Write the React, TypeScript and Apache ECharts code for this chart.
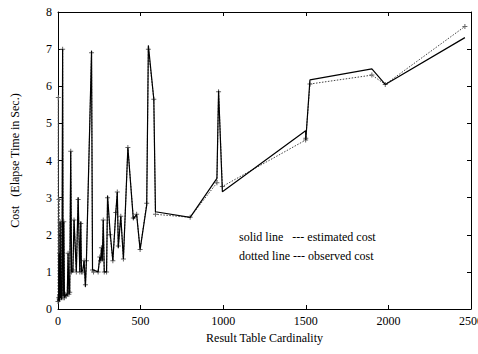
import React, { useEffect, useRef } from "react";
import * as echarts from "echarts";

const cardinality = [0, 2, 4, 6, 8, 10, 13, 16, 19, 22, 25, 28, 31, 35, 39, 44, 50, 56, 61, 66, 71, 77, 82, 90, 97, 111, 122, 132, 138, 142, 150, 158, 166, 172, 203, 209, 215, 243, 253, 258, 263, 268, 274, 280, 294, 300, 315, 332, 350, 359, 365, 380, 396, 423, 456, 476, 497, 537, 547, 580, 590, 800, 962, 972, 995, 1499, 1500, 1525, 1900, 1981, 2463];
const estimated = [0.2, 0.4, 0.25, 1.5, 0.2, 0.35, 2.35, 0.3, 0.4, 0.25, 2.3, 7.0, 0.35, 2.35, 0.3, 0.35, 0.4, 0.35, 1.5, 0.4, 0.45, 4.25, 1.0, 1.0, 2.4, 1.0, 3.0, 1.0, 2.35, 1.0, 1.05, 1.3, 0.6, 1.3, 6.95, 1.05, 1.05, 1.0, 1.4, 1.3, 1.65, 1.3, 2.4, 1.0, 1.0, 3.05, 2.1, 1.3, 2.6, 3.15, 1.65, 2.5, 1.35, 4.35, 2.42, 2.55, 1.6, 2.8, 7.1, 5.65, 2.62, 2.47, 3.52, 5.88, 3.16, 4.8, 4.55, 6.17, 6.47, 6.05, 7.31];
const observed = [0.2, 5.7, 0.3, 2.95, 0.25, 1.5, 2.35, 0.3, 2.3, 0.4, 0.35, 7.0, 0.3, 2.35, 0.3, 0.4, 0.35, 0.4, 1.5, 0.4, 0.45, 4.25, 1.0, 1.05, 2.4, 1.0, 2.95, 1.0, 2.3, 1.0, 1.0, 1.3, 0.65, 1.3, 6.9, 1.05, 1.0, 1.0, 1.4, 1.3, 1.65, 1.35, 2.4, 1.0, 1.0, 3.0, 2.0, 1.3, 2.6, 3.15, 1.7, 2.5, 1.35, 4.35, 2.45, 2.55, 1.6, 2.85, 7.0, 5.65, 2.55, 2.47, 3.4, 5.85, 3.3, 4.55, 4.6, 6.06, 6.3, 6.05, 7.61];

const xTicks = [0, 500, 1000, 1500, 2000, 2500];
const yTicks = [0, 1, 2, 3, 4, 5, 6, 7, 8];

const legendLines = ["solid line   --- estimated cost", "dotted line --- observed cost"];

const FONT = "Liberation Serif";

export default function App() {
  const ref = useRef<HTMLDivElement>(null);
  useEffect(() => {
    if (!ref.current) return;
    const chart = echarts.init(ref.current, null, { renderer: "svg" });
    const estData = cardinality.map((x, i) => [x, estimated[i]]);
    const obsData = cardinality.map((x, i) => [x, observed[i]]);
    const axisCommon = {
      type: "value" as const,
      axisLine: { show: true, onZero: false, lineStyle: { color: "#000", width: 1 } },
      axisTick: { show: true, inside: true, length: 4, lineStyle: { color: "#000" } },
      splitLine: { show: false },
    };
    chart.setOption({
      animation: false,
      backgroundColor: "#fff",
      grid: { left: 58, right: 7, top: 12, bottom: 45, containLabel: false, outerBoundsMode: "none" },
      xAxis: [
        {
          ...axisCommon,
          min: xTicks[0],
          max: xTicks[xTicks.length - 1],
          interval: 500,
          position: "bottom",
          axisLabel: { fontFamily: FONT, fontSize: 12, color: "#000", margin: 6, formatter: (v: number) => String(v) },
          name: "Result Table Cardinality",
          nameLocation: "middle",
          nameGap: 18,
          nameTextStyle: { fontFamily: FONT, fontSize: 12, color: "#000" },
        },
        {
          ...axisCommon,
          min: xTicks[0],
          max: xTicks[xTicks.length - 1],
          interval: 500,
          position: "top",
          axisLabel: { show: false },
        },
      ],
      yAxis: [
        {
          ...axisCommon,
          min: yTicks[0],
          max: yTicks[yTicks.length - 1],
          interval: 1,
          position: "left",
          axisLabel: { fontFamily: FONT, fontSize: 12, color: "#000", margin: 6, formatter: (v: number) => String(v) },
          name: "Cost   (Elapse Time in Sec.)",
          nameLocation: "middle",
          nameGap: 37,
          nameTextStyle: { fontFamily: FONT, fontSize: 12, color: "#000" },
        },
        {
          ...axisCommon,
          min: yTicks[0],
          max: yTicks[yTicks.length - 1],
          interval: 1,
          position: "right",
          axisLabel: { show: false },
        },
      ],
      series: [
        {
          type: "line",
          name: "estimated",
          data: estData,
          symbol: "none",
          lineStyle: { color: "#000", width: 1.2 },
          z: 3,
        },
        {
          type: "line",
          name: "observed",
          data: obsData,
          symbol: "path://M4,0h2v4h4v2h-4v4h-2v-4h-4v-2h4z",
          symbolSize: 5,
          itemStyle: { color: "#666" },
          lineStyle: { color: "#444", width: 1, type: [1.5, 1.5] },
          z: 2,
        },
      ],
      graphic: legendLines.map((t, i) => ({
        type: "text",
        left: 239,
        top: 231 + i * 19,
        style: { text: t, fontFamily: FONT, fontSize: 12, fill: "#000" },
      })),
    });
    return () => chart.dispose();
  }, []);
  return <div ref={ref} style={{ position: "fixed", left: 0, top: 0, width: 478, height: 354 }} />;
}
